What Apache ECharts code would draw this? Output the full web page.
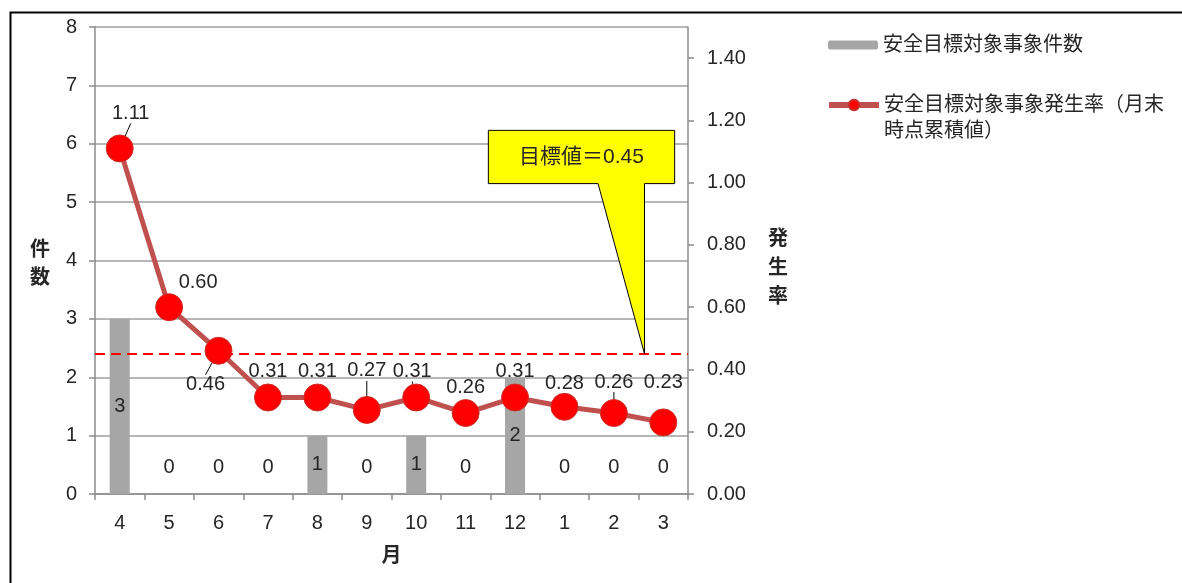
<!DOCTYPE html>
<html>
<head>
<meta charset="utf-8">
<script src="https://cdn.jsdelivr.net/npm/echarts@6/dist/echarts.min.js"></script>
<style>
  html, body { margin: 0; padding: 0; background: #fff; }
  #chart { width: 1182px; height: 583px; }
</style>
</head>
<body>
<div id="chart"></div>
<script>
// データ
const months = ['4', '5', '6', '7', '8', '9', '10', '11', '12', '1', '2', '3']
const eventCounts = [3, 0, 0, 0, 1, 0, 1, 0, 2, 0, 0, 0]
const eventRates = [1.11, 0.60, 0.46, 0.31, 0.31, 0.27, 0.31, 0.26, 0.31, 0.28, 0.26, 0.23]
const targetRate = 0.45

const countName = '安全目標対象事象件数'
const rateName = '安全目標対象事象発生率（月末時点累積値）'
const rateNameLine1 = '安全目標対象事象発生率（月末'
const rateNameLine2 = '時点累積値）'
const targetText = '目標値＝0.45'

const FONT = "'Liberation Sans', 'Noto Sans CJK JP', sans-serif"
const TEXT = '#262626'

// ラベル位置の微調整 (dataIndex -> [dx, dy])
const rateLabelShift = { 0: [11, -9], 1: [29, 1], 2: [-13, 60], 5: [0, -13], 6: [-4, 0], 9: [0, 3], 10: [0, -5], 11: [0, -14] }
const leaderIdx = [0, 2, 5, 6, 10]

const chart = echarts.init(document.getElementById('chart'))

const axisNameRich = (gap, lh) => ({
  s: { fontSize: 1, lineHeight: gap },
  a: { fontSize: 20, fontWeight: 'bold', color: TEXT, fontFamily: FONT, lineHeight: lh }
})

const option = {
  animation: false,
  textStyle: { fontFamily: FONT, color: TEXT },
  grid: { left: 95, right: 494, top: 27, bottom: 89 },
  legend: [
    {
      data: [countName],
      left: 828,
      top: 35,
      padding: 0,
      itemWidth: 50,
      itemHeight: 9,
      textStyle: { fontSize: 20, color: TEXT, fontFamily: FONT }
    },
    {
      data: [rateName],
      left: 826,
      top: 95,
      padding: 0,
      itemWidth: 50,
      itemHeight: 13,
      lineStyle: { width: 6, color: '#c0504d' },
      formatter: () => rateNameLine1,
      textStyle: { fontSize: 20, color: TEXT, fontFamily: FONT }
    }
  ],
  xAxis: {
    type: 'category',
    data: months,
    name: '月',
    nameLocation: 'middle',
    nameGap: 52,
    nameTextStyle: { fontSize: 20, fontWeight: 'bold', color: TEXT },
    axisLine: { lineStyle: { color: '#8c8c8c', width: 1.5 } },
    axisTick: { show: true, length: 6, lineStyle: { color: '#8c8c8c', width: 1.5 } },
    axisLabel: { fontSize: 20, color: TEXT, margin: 19 }
  },
  yAxis: [
    {
      type: 'value',
      min: 0,
      max: 8,
      interval: 1,
      name: '{s| }\n{a|件}\n{a|数}',
      nameLocation: 'middle',
      nameRotate: 0,
      nameGap: 45,
      nameTextStyle: { rich: axisNameRich(7, 28) },
      axisLine: { show: true, lineStyle: { color: '#8c8c8c', width: 1.5 } },
      axisTick: { show: true, length: 6, lineStyle: { color: '#8c8c8c', width: 1.5 } },
      axisLabel: { fontSize: 20, color: TEXT, margin: 18 },
      splitLine: { lineStyle: { color: '#9e9e9e', width: 1.5 } }
    },
    {
      type: 'value',
      min: 0,
      max: 1.5,
      interval: 0.2,
      position: 'right',
      name: '{s| }\n{a|発}\n{a|生}\n{a|率}',
      nameLocation: 'middle',
      nameRotate: 0,
      nameGap: 80,
      nameTextStyle: { rich: axisNameRich(16, 29) },
      axisLine: { show: true, lineStyle: { color: '#8c8c8c', width: 1.5 } },
      axisTick: { show: true, length: 6, lineStyle: { color: '#8c8c8c', width: 1.5 } },
      axisLabel: { fontSize: 20, color: TEXT, margin: 19, showMaxLabel: false, formatter: v => v.toFixed(2) },
      splitLine: { show: false }
    }
  ],
  series: [
    {
      name: countName,
      type: 'bar',
      yAxisIndex: 0,
      barWidth: 20,
      z: 2,
      itemStyle: { color: '#a6a6a6' },
      label: { show: true, position: 'inside', fontSize: 20, color: TEXT },
      data: eventCounts.map(v => (v === 0 ? { value: v, label: { offset: [0, -27] } } : v))
    },
    {
      name: 'target',
      type: 'line',
      yAxisIndex: 1,
      data: [],
      z: 3,
      markLine: {
        silent: true,
        symbol: 'none',
        label: { show: false },
        lineStyle: { color: '#ff0000', type: [10, 6], width: 2 },
        data: [{ yAxis: targetRate }]
      }
    },
    {
      name: rateName,
      type: 'line',
      yAxisIndex: 1,
      z: 4,
      symbol: 'circle',
      symbolSize: 27,
      lineStyle: { color: '#c0504d', width: 5 },
      itemStyle: { color: '#ff0000', borderColor: '#c8302c', borderWidth: 1 },
      label: {
        show: true,
        position: 'top',
        distance: 2,
        fontSize: 20,
        color: TEXT,
        formatter: p => p.value.toFixed(2)
      },
      labelLayout: p => {
        const s = rateLabelShift[p.dataIndex]
        return s ? { dx: s[0], dy: s[1] } : {}
      },
      labelLine: { show: false, lineStyle: { color: '#000', width: 1 } },
      data: eventRates.map((v, i) => ({
        value: v,
        labelLine: { show: leaderIdx.includes(i), lineStyle: { color: '#000', width: 1 } }
      }))
    }
  ]
}

chart.setOption(option)

// 目標値の吹き出し (軸の値から位置を求める)
const at = (idx, val) => {
  const i0 = Math.min(Math.floor(idx), months.length - 2)
  const f = idx - i0
  const a = chart.convertToPixel({ seriesIndex: 2 }, [i0, val])
  const b = chart.convertToPixel({ seriesIndex: 2 }, [i0 + 1, val])
  return [a[0] + f * (b[0] - a[0]), a[1]]
}

const drawExtras = () => {
  const tl = at(7.46, 1.168)
  const br = at(11.23, 0.997)
  const baseL = at(9.68, 0.997)
  const tip = at(10.62, targetRate)
  chart.setOption({
    graphic: [
      {
        type: 'rect',
        left: 8,
        top: 10,
        shape: { width: 1300, height: 700 },
        style: { fill: 'none', stroke: '#000', lineWidth: 2 },
        silent: true,
        z: 0
      },
      {
        type: 'polygon',
        z: 100,
        shape: {
          points: [
            [tl[0], tl[1]], [br[0], tl[1]], [br[0], br[1]], [tip[0], br[1]],
            tip, [baseL[0], br[1]], [tl[0], br[1]]
          ]
        },
        style: { fill: '#ffff00', stroke: '#000', lineWidth: 1 }
      },
      {
        type: 'text',
        z: 101,
        x: (tl[0] + br[0]) / 2,
        y: (tl[1] + br[1]) / 2,
        style: {
          text: targetText,
          fontSize: 21,
          fontFamily: FONT,
          fill: TEXT,
          align: 'center',
          verticalAlign: 'middle'
        }
      },
      {
        // 凡例の2行目
        type: 'text',
        z: 10,
        x: 884,
        y: 131,
        style: {
          text: rateNameLine2,
          fontSize: 20,
          fontFamily: FONT,
          fill: TEXT,
          align: 'left',
          verticalAlign: 'middle'
        }
      }
    ]
  })
}

drawExtras()
</script>
</body>
</html>
